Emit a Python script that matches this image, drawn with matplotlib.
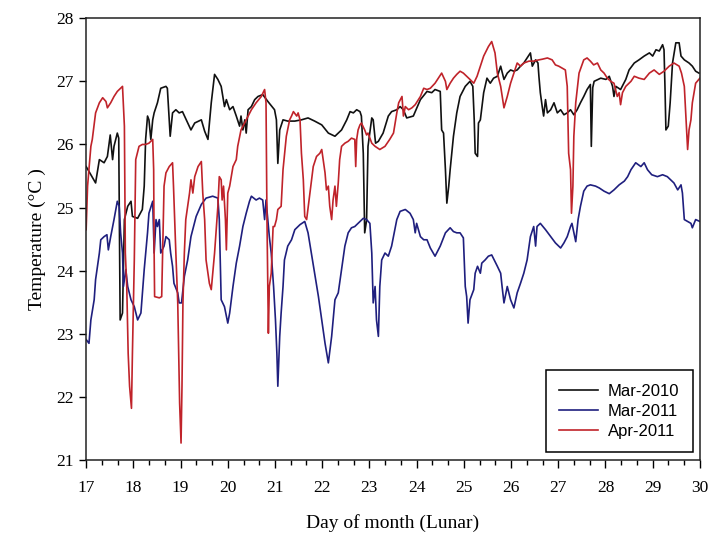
import matplotlib
matplotlib.use('Agg')
import matplotlib.pyplot as plt
from matplotlib.ticker import MultipleLocator

# logger records, lunar day vs water temperature
mar2010_day = [17.00, 17.20, 17.28, 17.38, 17.45, 17.51, 17.56, 17.59, 17.66, 17.69, 17.72, 17.77, 17.81, 17.88,
               17.95, 17.98, 18.09, 18.19, 18.23, 18.26, 18.30, 18.33, 18.37, 18.41, 18.44, 18.51, 18.58, 18.69,
               18.72, 18.76, 18.78, 18.83, 18.90, 18.97, 19.04, 19.12, 19.22, 19.30, 19.44, 19.51, 19.58, 19.65,
               19.72, 19.79, 19.86, 19.93, 19.97, 20.04, 20.11, 20.18, 20.25, 20.28, 20.32, 20.36, 20.39, 20.43,
               20.50, 20.57, 20.64, 20.74, 20.85, 20.99, 21.03, 21.06, 21.10, 21.17, 21.27, 21.42, 21.56, 21.70,
               21.84, 21.99, 22.13, 22.27, 22.41, 22.52, 22.59, 22.66, 22.73, 22.80, 22.83, 22.87, 22.90, 22.94,
               22.97, 23.05, 23.08, 23.13, 23.19, 23.29, 23.40, 23.47, 23.58, 23.65, 23.72, 23.79, 23.93, 24.08,
               24.22, 24.32, 24.39, 24.50, 24.53, 24.57, 24.61, 24.64, 24.68, 24.71, 24.78, 24.85, 24.92, 25.03,
               25.13, 25.19, 25.22, 25.24, 25.29, 25.31, 25.35, 25.42, 25.49, 25.56, 25.63, 25.71, 25.78, 25.85,
               25.92, 25.99, 26.06, 26.13, 26.20, 26.27, 26.34, 26.41, 26.45, 26.52, 26.57, 26.59, 26.62, 26.66,
               26.69, 26.73, 26.77, 26.84, 26.91, 26.98, 27.05, 27.12, 27.19, 27.26, 27.33, 27.40, 27.47, 27.54,
               27.61, 27.68, 27.70, 27.73, 27.76, 27.90, 28.01, 28.08, 28.15, 28.18, 28.22, 28.32, 28.43, 28.50,
               28.61, 28.71, 28.82, 28.93, 29.00, 29.07, 29.14, 29.21, 29.24, 29.26, 29.28, 29.33, 29.37, 29.42,
               29.49, 29.56, 29.60, 29.67, 29.77, 29.84, 29.91, 29.98]
mar2010_temp = [25.65, 25.39, 25.76, 25.71, 25.81, 26.15, 25.76, 25.97, 26.18, 26.10, 23.22, 23.33, 24.81, 25.02,
                25.10, 24.86, 24.83, 24.97, 25.34, 26.08, 26.45, 26.39, 26.08, 26.39, 26.50, 26.66, 26.89, 26.92,
                26.89, 26.39, 26.13, 26.50, 26.55, 26.50, 26.52, 26.39, 26.23, 26.34, 26.39, 26.21, 26.08, 26.66,
                27.11, 27.03, 26.92, 26.60, 26.71, 26.55, 26.60, 26.45, 26.29, 26.45, 26.23, 26.39, 26.18, 26.55,
                26.60, 26.71, 26.76, 26.79, 26.68, 26.55, 26.39, 25.70, 26.23, 26.39, 26.37, 26.37, 26.39, 26.42,
                26.37, 26.31, 26.18, 26.13, 26.23, 26.39, 26.52, 26.50, 26.55, 26.52, 26.45, 25.86, 24.60, 24.80,
                25.97, 26.42, 26.39, 26.02, 26.05, 26.18, 26.45, 26.52, 26.55, 26.60, 26.55, 26.42, 26.45, 26.71,
                26.84, 26.82, 26.87, 26.84, 26.23, 26.18, 25.60, 25.07, 25.34, 25.60, 26.13, 26.50, 26.76, 26.92,
                27.00, 26.92, 26.39, 25.86, 25.81, 26.34, 26.39, 26.82, 27.05, 26.97, 27.05, 27.08, 27.24, 27.03,
                27.13, 27.18, 27.16, 27.18, 27.24, 27.29, 27.37, 27.45, 27.24, 27.34, 27.29, 27.08, 26.82, 26.60,
                26.45, 26.71, 26.50, 26.55, 26.66, 26.50, 26.55, 26.47, 26.50, 26.55, 26.47, 26.55, 26.66, 26.76,
                26.87, 26.95, 25.97, 26.90, 27.00, 27.05, 27.03, 27.08, 26.92, 26.76, 26.92, 26.87, 27.03, 27.18,
                27.29, 27.34, 27.40, 27.45, 27.40, 27.50, 27.48, 27.58, 27.50, 26.92, 26.23, 26.29, 26.66, 27.29,
                27.61, 27.61, 27.40, 27.34, 27.29, 27.24, 27.16, 27.13]

mar2011_day = [17.00, 17.06, 17.10, 17.17, 17.20, 17.28, 17.31, 17.38, 17.44, 17.47, 17.52, 17.59, 17.66, 17.70,
               17.73, 17.77, 17.79, 17.84, 17.88, 17.95, 18.02, 18.09, 18.16, 18.23, 18.30, 18.33, 18.41, 18.44,
               18.48, 18.51, 18.55, 18.58, 18.65, 18.69, 18.76, 18.79, 18.83, 18.86, 18.94, 18.97, 19.02, 19.08,
               19.15, 19.22, 19.33, 19.44, 19.54, 19.68, 19.79, 19.82, 19.86, 19.93, 20.00, 20.04, 20.11, 20.18,
               20.25, 20.32, 20.39, 20.46, 20.50, 20.60, 20.67, 20.74, 20.78, 20.81, 20.88, 20.92, 20.97, 21.01,
               21.04, 21.06, 21.10, 21.13, 21.17, 21.20, 21.27, 21.35, 21.42, 21.53, 21.63, 21.70, 21.77, 21.84,
               21.92, 21.99, 22.06, 22.13, 22.20, 22.27, 22.34, 22.41, 22.48, 22.55, 22.62, 22.69, 22.76, 22.87,
               22.94, 23.01, 23.05, 23.08, 23.12, 23.15, 23.19, 23.22, 23.26, 23.33, 23.40, 23.47, 23.58, 23.65,
               23.76, 23.86, 23.93, 23.97, 24.00, 24.08, 24.15, 24.22, 24.29, 24.39, 24.50, 24.61, 24.71, 24.78,
               24.85, 24.92, 24.99, 25.03, 25.06, 25.09, 25.13, 25.21, 25.24, 25.29, 25.35, 25.38, 25.45, 25.52,
               25.59, 25.71, 25.78, 25.81, 25.85, 25.92, 25.99, 26.06, 26.13, 26.20, 26.27, 26.34, 26.41, 26.48,
               26.52, 26.55, 26.62, 26.73, 26.84, 26.94, 27.05, 27.12, 27.19, 27.26, 27.29, 27.37, 27.42, 27.47,
               27.54, 27.61, 27.68, 27.79, 27.87, 27.97, 28.08, 28.18, 28.29, 28.40, 28.47, 28.54, 28.64, 28.75,
               28.82, 28.89, 28.98, 29.10, 29.21, 29.31, 29.38, 29.45, 29.53, 29.60, 29.63, 29.67, 29.74, 29.81,
               29.84, 29.91, 30.00]
mar2011_temp = [22.91, 22.85, 23.22, 23.54, 23.86, 24.28, 24.49, 24.54, 24.57, 24.33, 24.54, 24.81, 25.10, 25.02,
                24.60, 24.28, 23.75, 24.02, 23.75, 23.54, 23.43, 23.22, 23.33, 24.02, 24.60, 24.91, 25.10, 24.28,
                24.81, 24.70, 24.81, 24.28, 24.39, 24.54, 24.49, 24.28, 24.07, 23.80, 23.65, 23.49, 23.49, 23.91,
                24.17, 24.54, 24.86, 25.05, 25.15, 25.18, 25.15, 24.81, 23.54, 23.43, 23.17, 23.33, 23.75, 24.12,
                24.39, 24.70, 24.91, 25.10, 25.18, 25.12, 25.15, 25.12, 24.81, 25.12, 24.54, 24.28, 23.75, 23.22,
                22.69, 22.17, 22.96, 23.33, 23.75, 24.17, 24.39, 24.49, 24.65, 24.73, 24.78, 24.60, 24.28, 23.96,
                23.59, 23.22, 22.85, 22.54, 22.96, 23.54, 23.65, 24.02, 24.39, 24.60, 24.68, 24.70, 24.75, 24.83,
                24.81, 24.75, 24.28, 23.49, 23.75, 23.22, 22.96, 23.75, 24.17, 24.28, 24.23, 24.39, 24.81, 24.94,
                24.97, 24.91, 24.81, 24.60, 24.75, 24.54, 24.49, 24.49, 24.36, 24.23, 24.39, 24.60, 24.68, 24.62,
                24.60, 24.60, 24.52, 23.75, 23.59, 23.17, 23.54, 23.70, 23.96, 24.07, 23.96, 24.12, 24.17, 24.23,
                24.25, 24.07, 23.96, 23.75, 23.49, 23.75, 23.54, 23.41, 23.65, 23.80, 23.96, 24.17, 24.54, 24.70,
                24.39, 24.70, 24.75, 24.65, 24.54, 24.44, 24.36, 24.44, 24.54, 24.70, 24.75, 24.46, 24.81, 25.02,
                25.26, 25.34, 25.36, 25.34, 25.31, 25.26, 25.22, 25.28, 25.36, 25.42, 25.49, 25.60, 25.71, 25.65,
                25.71, 25.60, 25.52, 25.49, 25.52, 25.49, 25.44, 25.39, 25.28, 25.36, 25.23, 24.81, 24.78, 24.75,
                24.68, 24.81, 24.78]

apr2011_day = [17.00, 17.03, 17.10, 17.13, 17.20, 17.28, 17.35, 17.42, 17.45, 17.52, 17.59, 17.66, 17.77, 17.79,
               17.81, 17.83, 17.86, 17.89, 17.92, 17.96, 17.98, 18.02, 18.05, 18.12, 18.19, 18.26, 18.33, 18.41,
               18.43, 18.44, 18.45, 18.55, 18.60, 18.62, 18.65, 18.69, 18.76, 18.83, 18.85, 18.90, 18.94, 18.96,
               18.98, 19.01, 19.03, 19.05, 19.08, 19.11, 19.15, 19.19, 19.22, 19.26, 19.30, 19.37, 19.44, 19.47,
               19.51, 19.54, 19.58, 19.61, 19.65, 19.72, 19.79, 19.82, 19.86, 19.88, 19.91, 19.95, 19.97, 20.00,
               20.04, 20.11, 20.18, 20.21, 20.28, 20.39, 20.50, 20.60, 20.71, 20.78, 20.81, 20.83, 20.86, 20.88,
               20.92, 20.96, 20.99, 21.03, 21.06, 21.13, 21.17, 21.24, 21.31, 21.35, 21.39, 21.46, 21.49, 21.53,
               21.56, 21.60, 21.63, 21.67, 21.74, 21.81, 21.88, 21.95, 21.99, 22.02, 22.06, 22.09, 22.13, 22.16,
               22.20, 22.23, 22.27, 22.30, 22.34, 22.37, 22.41, 22.48, 22.55, 22.62, 22.69, 22.71, 22.73, 22.76,
               22.80, 22.83, 22.90, 22.94, 22.97, 23.05, 23.12, 23.22, 23.33, 23.43, 23.51, 23.58, 23.62, 23.69,
               23.72, 23.76, 23.83, 23.90, 23.97, 24.08, 24.15, 24.22, 24.29, 24.39, 24.46, 24.53, 24.61, 24.64,
               24.71, 24.78, 24.85, 24.92, 24.99, 25.06, 25.13, 25.21, 25.28, 25.35, 25.42, 25.52, 25.59, 25.66,
               25.71, 25.78, 25.85, 25.92, 25.99, 26.06, 26.13, 26.20, 26.27, 26.38, 26.48, 26.59, 26.66, 26.77,
               26.87, 26.94, 27.01, 27.08, 27.15, 27.19, 27.22, 27.26, 27.28, 27.31, 27.33, 27.37, 27.44, 27.54,
               27.61, 27.68, 27.75, 27.83, 27.90, 27.97, 28.04, 28.11, 28.18, 28.25, 28.29, 28.32, 28.36, 28.43,
               28.54, 28.61, 28.71, 28.82, 28.93, 29.03, 29.14, 29.24, 29.35, 29.45, 29.56, 29.61, 29.67, 29.70,
               29.74, 29.77, 29.81, 29.84, 29.91, 30.00]
apr2011_temp = [24.65, 25.34, 25.97, 26.08, 26.50, 26.66, 26.74, 26.68, 26.58, 26.66, 26.76, 26.84, 26.92, 26.60,
                26.29, 24.28, 23.75, 22.69, 22.17, 21.82, 22.69, 24.17, 25.76, 25.97, 26.00, 26.00, 26.02, 26.08,
                25.60, 24.28, 23.59, 23.57, 23.59, 24.28, 25.34, 25.55, 25.65, 25.71, 25.34, 24.28, 23.49, 22.69,
                21.90, 21.27, 22.17, 23.49, 24.28, 24.81, 25.02, 25.23, 25.44, 25.23, 25.49, 25.65, 25.73, 25.23,
                24.81, 24.17, 23.96, 23.80, 23.70, 24.28, 25.02, 25.49, 25.44, 25.12, 25.34, 24.81, 24.33, 25.23,
                25.34, 25.65, 25.76, 25.97, 26.23, 26.39, 26.55, 26.66, 26.76, 26.87, 26.66, 24.81, 23.01, 23.75,
                23.96, 24.70, 24.70, 24.81, 24.97, 25.02, 25.60, 26.13, 26.39, 26.45, 26.52, 26.45, 26.50, 26.39,
                25.86, 25.44, 24.86, 24.81, 25.23, 25.65, 25.81, 25.86, 25.92, 25.76, 25.55, 25.28, 25.34, 25.02,
                24.81, 25.12, 25.34, 25.02, 25.39, 25.76, 25.97, 26.02, 26.05, 26.10, 26.08, 25.65, 26.08, 26.23,
                26.31, 26.34, 26.23, 26.15, 26.18, 26.02, 25.97, 25.92, 25.97, 26.08, 26.18, 26.50, 26.66, 26.76,
                26.45, 26.60, 26.55, 26.58, 26.63, 26.76, 26.89, 26.87, 26.89, 26.97, 27.05, 27.13, 27.00, 26.87,
                26.97, 27.05, 27.11, 27.16, 27.13, 27.08, 27.03, 26.97, 27.08, 27.24, 27.40, 27.55, 27.63, 27.45,
                27.13, 26.92, 26.58, 26.76, 26.97, 27.13, 27.29, 27.24, 27.29, 27.32, 27.32, 27.34, 27.35, 27.37,
                27.34, 27.26, 27.24, 27.21, 27.18, 26.92, 25.86, 25.60, 24.91, 25.34, 26.13, 26.66, 27.13, 27.34,
                27.37, 27.32, 27.26, 27.29, 27.18, 27.13, 27.05, 27.00, 26.97, 26.76, 26.82, 26.63, 26.82, 26.92,
                27.00, 27.08, 27.05, 27.03, 27.13, 27.18, 27.11, 27.16, 27.24, 27.29, 27.24, 27.13, 26.92, 26.50,
                25.92, 26.23, 26.39, 26.66, 26.97, 27.05]

serif = ['Liberation Serif', 'DejaVu Serif']
sans = ['Liberation Sans', 'DejaVu Sans']

fig = plt.figure(figsize=(7.12, 5.35), dpi=100)
ax = fig.add_axes([0.121, 0.140, 0.862, 0.826])

ax.plot(mar2010_day, mar2010_temp, color='#111111', lw=1.2, label='Mar-2010')
ax.plot(mar2011_day, mar2011_temp, color='#1f1f7e', lw=1.2, label='Mar-2011')
ax.plot(apr2011_day, apr2011_temp, color='#c0232a', lw=1.2, label='Apr-2011')

ax.set_xlim(17, 30)
ax.set_ylim(21, 28)
ax.xaxis.set_major_locator(MultipleLocator(1))
ax.xaxis.set_minor_locator(MultipleLocator(1 / 3))
ax.yaxis.set_major_locator(MultipleLocator(1))
ax.tick_params(axis='x', which='major', direction='out', length=6, width=1, pad=8)
ax.tick_params(axis='x', which='minor', direction='out', length=3.5, width=1)
ax.tick_params(axis='y', direction='out', length=5, width=1, pad=4)
for lab in ax.get_xticklabels() + ax.get_yticklabels():
    lab.set_family(serif)
    lab.set_fontsize(12.5)
for sp in ax.spines.values():
    sp.set_linewidth(1.1)
    sp.set_color('#222222')

ax.set_xlabel('Day of month (Lunar)', family=serif, fontsize=14, labelpad=13)
ax.set_ylabel('Temperature (°C )', family=serif, fontsize=14, labelpad=7)

leg = ax.legend(loc='lower right', bbox_to_anchor=(0.988, 0.018), borderaxespad=0,
                fancybox=False, edgecolor='black', framealpha=1, handlelength=2.3,
                handletextpad=0.6, borderpad=0.8, labelspacing=0.3,
                prop={'family': sans, 'size': 12})
leg.get_frame().set_linewidth(1.1)

fig.savefig('out.png', dpi=100)
